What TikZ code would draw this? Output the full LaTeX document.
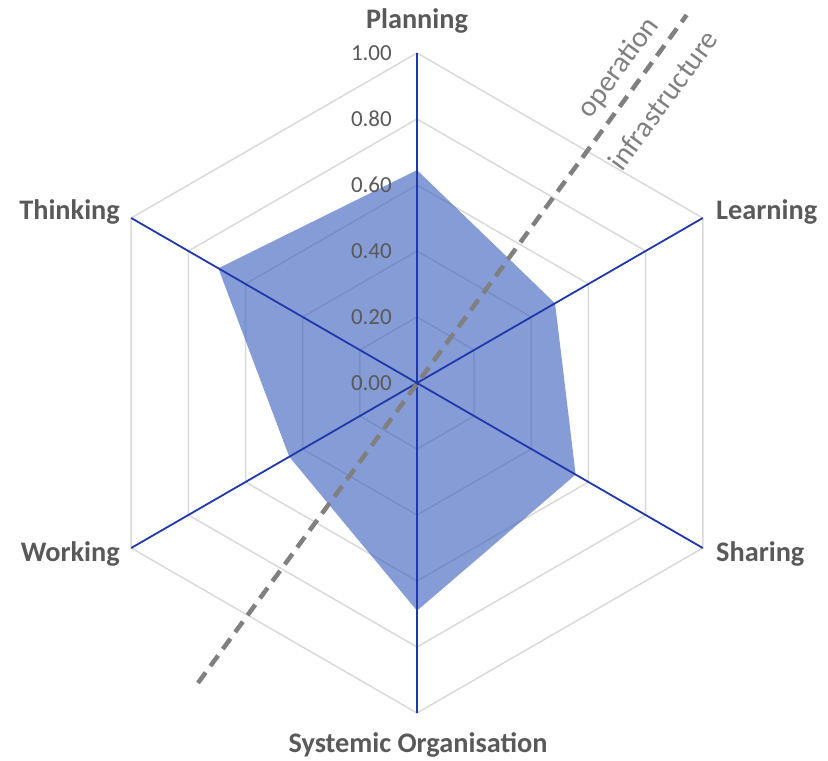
\documentclass[tikz,border=0pt]{standalone}
\usepackage{fontspec}
\setmainfont{Carlito}
\usetikzlibrary{calc}
\definecolor{lbl}{RGB}{89,89,89}
\definecolor{axisblue}{RGB}{32,56,170}
\definecolor{gridgray}{RGB}{217,217,217}
\definecolor{fillblue}{RGB}{60,95,190}
\definecolor{dashgray}{RGB}{128,128,128}
\tikzset{
  gridline/.style={draw=gridgray, line width=1.5pt},
  axisline/.style={draw=axisblue, line width=1.8pt},
  datafill/.style={fill=fillblue, fill opacity=0.62},
  catlabel/.style={font=\fontsize{28.3}{32}\selectfont\bfseries, text=lbl, inner sep=0pt},
  ticklabel/.style={font=\fontsize{23}{26}\selectfont, text=lbl, inner sep=0pt, anchor=east},
  divider/.style={draw=dashgray, line width=4.5pt, dash pattern=on 13pt off 8pt},
  sidelabel/.style={font=\fontsize{29.5}{32}\selectfont, text=dashgray, inner sep=0pt, rotate=53.8}
}
\begin{document}
\begin{tikzpicture}[x=1pt,y=1pt]
\useasboundingbox (0,0) rectangle (828,761);
\coordinate (O) at (417,378);
% grid
\foreach \r in {66,132,198,264,330}{
  \draw[gridline] ($(O)+(90:\r)$) -- ($(O)+(30:\r)$) -- ($(O)+(-30:\r)$) -- ($(O)+(-90:\r)$) -- ($(O)+(210:\r)$) -- ($(O)+(150:\r)$) -- cycle;
}
% data
\fill[datafill] ($(O)+(90:212.9)$) -- ($(O)+(30:159.4)$) -- ($(O)+(-30:183.2)$) -- ($(O)+(-90:227.7)$) -- ($(O)+(210:147.5)$) -- ($(O)+(150:229.4)$) -- cycle;
% axes
\coordinate (vP) at ($(O)+(90:330)$);
\coordinate (vL) at ($(O)+(30:330)$);
\coordinate (vS) at ($(O)+(-30:330)$);
\coordinate (vY) at ($(O)+(-90:330)$);
\coordinate (vW) at ($(O)+(210:330)$);
\coordinate (vT) at ($(O)+(150:330)$);
\foreach \v in {vP,vL,vS,vY,vW,vT}{
  \draw[axisline] (O) -- (\v);
}
% tick labels
\node[ticklabel] (t0) at (392,378) {0.00};
\node[ticklabel] (t1) at (392,444) {0.20};
\node[ticklabel] (t2) at (392,510) {0.40};
\node[ticklabel] (t3) at (392,576) {0.60};
\node[ticklabel] (t4) at (392,642) {0.80};
\node[ticklabel] (t5) at (392,708) {1.00};
% divider
\coordinate (d1) at (198,78);
\coordinate (d2) at (686.7,746);
\draw[divider] (d1) -- (d2);
\node[sidelabel] (op) at (619,693) {operation};
\node[sidelabel] (inf) at (663,661) {infrastructure};
% category labels
\node[catlabel] (lP) at (417,740) {Planning};
\node[catlabel, anchor=base east] (lT) at (120,541) {Thinking};
\node[catlabel, anchor=base east] (lW) at (120,199) {Working};
\node[catlabel, anchor=base west] (lL) at (716,541) {Learning};
\node[catlabel, anchor=base west] (lS) at (716,199) {Sharing};
\node[catlabel] (lY) at (418,16) {Systemic Organisation};
\end{tikzpicture}
\end{document}
